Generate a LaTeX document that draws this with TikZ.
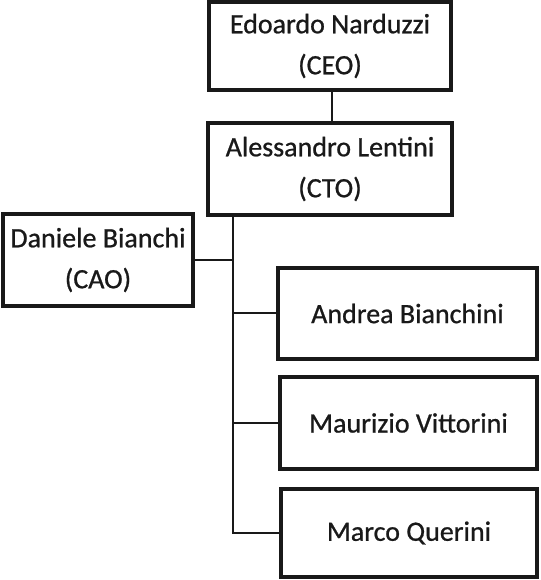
\documentclass[tikz,border=0pt]{standalone}
\usepackage{fontspec}
\setmainfont{Carlito}[FakeBold=0.8]
\begin{document}
\begin{tikzpicture}[x=1pt,y=1pt,
  box/.style={draw=black!90, line width=3.3pt, fill=white, inner sep=0pt, align=center,
    font=\fontsize{28}{41}\selectfont, text=black!90},
  link/.style={draw=black!90, line width=2pt}]
\useasboundingbox (0,0) rectangle (540,580);
\node[box, minimum width=242pt, minimum height=88pt] (ceo) at (330,534) {Edoardo Narduzzi\\(CEO)};
\node[box, minimum width=244pt, minimum height=92pt] (cto) at (330,411) {Alessandro Lentini\\(CTO)};
\node[box, minimum width=190pt, minimum height=92pt] (cao) at (98,320) {Daniele Bianchi\\(CAO)};
\node[box, minimum width=259pt, minimum height=91pt] (andrea) at (407.5,266.5) {Andrea Bianchini};
\node[box, minimum width=257pt, minimum height=92pt] (maurizio) at (408.5,157) {Maurizio Vittorini};
\node[box, minimum width=256pt, minimum height=88pt] (marco) at (409,47) {Marco Querini};
\coordinate (trunk) at (233,0);
\draw[link] ([xshift=2pt]ceo.south) -- ([xshift=2pt]cto.north);
\draw[link] (cto.south -| trunk) -- (trunk |- marco.west) -- (marco.west);
\draw[link] (cao.east) -- (cao.east -| trunk);
\draw[link] (andrea.west) -- (andrea.west -| trunk);
\draw[link] (maurizio.west) -- (maurizio.west -| trunk);
\end{tikzpicture}
\end{document}
